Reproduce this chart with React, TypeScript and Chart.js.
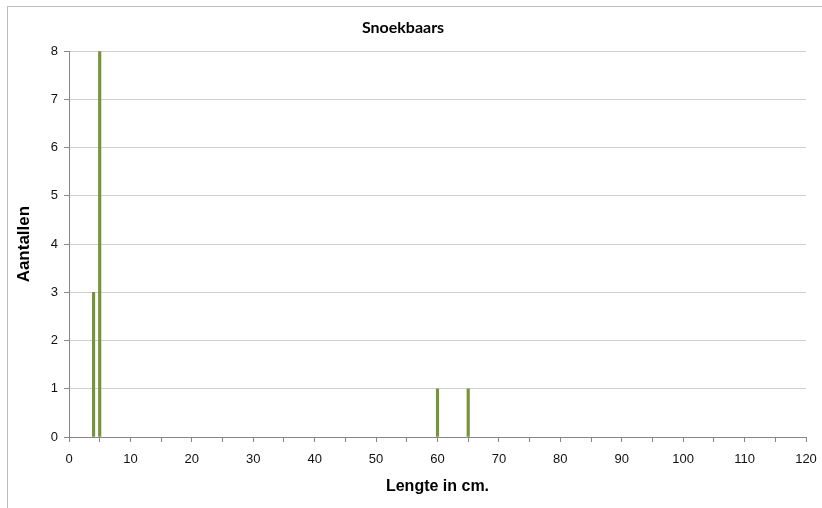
import React, { useEffect, useRef } from "react";
import { Chart, registerables } from "chart.js";

Chart.register(...registerables);

// Snoekbaars catch: length classes (cm) and counts
const lengthsCm = [4, 5, 60, 65];
const counts = [3, 8, 1, 1];

const chartTitle = "Snoekbaars";
const xTitle = "Lengte in cm.";
const yTitle = "Aantallen";

const xMin = 0;
const xMax = 120;
const yMin = 0;
const yMax = 8;

export default function App() {
  const canvasRef = useRef<HTMLCanvasElement | null>(null);

  useEffect(() => {
    const canvas = canvasRef.current;
    if (!canvas) return;

    const points = lengthsCm.map((x, i) => ({ x, y: counts[i] }));
    const tickFont = { family: "'Liberation Sans', Arial, sans-serif", size: 13 };
    const axisTitleFont = {
      family: "'Liberation Sans', Arial, sans-serif",
      size: 16,
      weight: "bold" as const,
    };

    const chart = new Chart(canvas, {
      type: "bar",
      data: {
        datasets: [
          {
            data: points,
            backgroundColor: "#77933C",
            borderWidth: 0,
            barThickness: 2.5,
          },
        ],
      },
      options: {
        animation: false,
        responsive: false,
        maintainAspectRatio: false,
        layout: { padding: { left: 0, right: 16, top: 0, bottom: 0 } },
        plugins: {
          legend: { display: false },
          tooltip: { enabled: false },
          title: {
            display: true,
            text: chartTitle,
            color: "#000",
            font: { family: "Lato, 'Open Sans', sans-serif", size: 16, weight: "bold" },
            padding: { top: 18, bottom: 14 },
          },
        },
        scales: {
          x: {
            type: "linear",
            min: xMin,
            max: xMax,
            offset: false,
            grid: {
              offset: false,
              drawOnChartArea: false,
              drawTicks: true,
              tickLength: 5,
              tickColor: "#868686",
            },
            border: { display: true, color: "#868686", width: 1 },
            ticks: {
              stepSize: 5,
              color: "#111",
              font: tickFont,
              padding: 10,
              maxRotation: 0,
              autoSkip: false,
              callback: (v) => (Number(v) % 10 === 0 ? String(v) : ""),
            },
            title: {
              display: true,
              text: xTitle,
              color: "#000",
              font: axisTitleFont,
              padding: { top: 0, bottom: 12 },
            },
            afterFit: (scale) => {
              scale.height = 71;
              scale.paddingRight = 0;
              scale.paddingLeft = 0;
            },
          },
          y: {
            type: "linear",
            min: yMin,
            max: yMax,
            grid: {
              color: "#d0d0d0",
              drawTicks: true,
              tickLength: 5,
              tickColor: "#868686",
            },
            border: { display: true, color: "#868686", width: 1 },
            ticks: {
              stepSize: 1,
              color: "#111",
              font: tickFont,
              padding: 6,
            },
            title: {
              display: true,
              text: yTitle,
              color: "#000",
              font: { ...axisTitleFont, size: 17 },
              padding: { top: 14, bottom: 0 },
            },
            afterFit: (scale) => {
              scale.width = 69;
            },
          },
        },
      },
    });

    return () => chart.destroy();
  }, []);

  return (
    <div
      style={{
        position: "fixed",
        left: 0,
        top: 0,
        width: 822,
        height: 508,
        overflow: "hidden",
        background: "#fff",
      }}
    >
      <div
        style={{
          position: "absolute",
          left: 7,
          top: 6,
          width: 900,
          height: 600,
          borderTop: "1px solid #bdbdbd",
          borderLeft: "1px solid #bdbdbd",
        }}
      />
      <canvas
        ref={canvasRef}
        width={822}
        height={508}
        style={{ position: "absolute", left: 0, top: 0, width: 822, height: 508 }}
      />
    </div>
  );
}
